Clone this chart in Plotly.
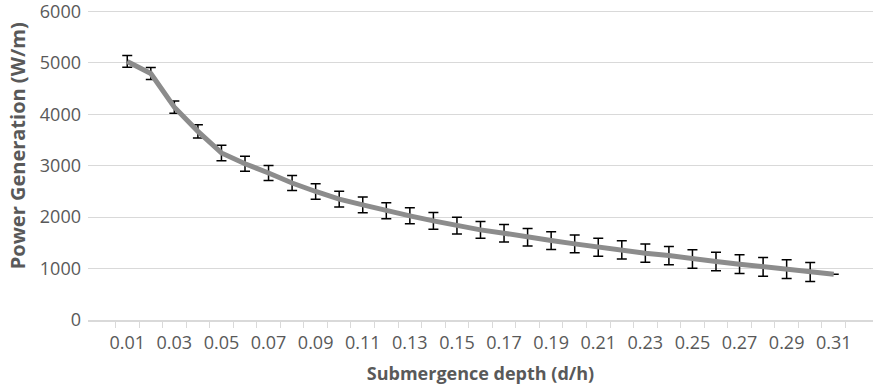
import plotly.graph_objects as go

# Submergence depth categories (d/h)
depths = [f"{v / 100:.2f}" for v in range(1, 32)]

# Mean power generation per unit width (W/m)
power = [5030, 4795, 4140, 3670, 3250, 3040, 2860, 2665, 2500, 2350,
         2240, 2125, 2026, 1929, 1837, 1753, 1689, 1611, 1545, 1481,
         1416, 1364, 1299, 1253, 1188, 1136, 1085, 1032, 988, 935, 890]

# Error bar half-widths (W/m); the last depth has none
error = [115, 117, 120, 130, 150, 146, 146, 148, 150, 152,
         154, 156, 156, 162, 163, 165, 170, 170, 172, 174,
         175, 176, 178, 178, 180, 180, 182, 182, 183, 185, None]

# Every other category gets a visible label
tick_text = [d if i % 2 == 0 else "" for i, d in enumerate(depths)]

y_ticks = [0, 1000, 2000, 3000, 4000, 5000, 6000]

TEXT = "#595959"
GRID = "#d9d9d9"
FONT = "Open Sans, Lato, sans-serif"

fig = go.Figure(
    go.Scatter(
        x=depths,
        y=power,
        mode="lines",
        line=dict(color="#8c8c8c", width=5),
        error_y=dict(type="data",
                     array=[e if e is not None else float("nan") for e in error],
                     visible=True, color="black", thickness=1.5, width=5),
        hoverinfo="x+y",
    )
)

fig.update_layout(
    width=883,
    height=390,
    margin=dict(l=88, r=10, t=10, b=70),
    paper_bgcolor="white",
    plot_bgcolor="white",
    showlegend=False,
    font=dict(family=FONT, color=TEXT),
)

fig.update_xaxes(
    type="category",
    categoryorder="array",
    categoryarray=depths,
    tickmode="array",
    tickvals=depths,
    ticktext=tick_text,
    tickangle=0,
    tickson="boundaries",
    ticks="outside",
    ticklen=6,
    tickcolor=GRID,
    tickwidth=1,
    showgrid=False,
    showline=True,
    linecolor=GRID,
    linewidth=1.5,
    tickfont=dict(size=18, color=TEXT),
    ticklabelstandoff=6,
    title=dict(text="<b>Submergence depth (d/h)</b>",
               font=dict(size=18, color=TEXT), standoff=14),
)

fig.update_yaxes(
    range=[0, 6030],
    tickmode="array",
    tickvals=y_ticks,
    showgrid=True,
    gridcolor=GRID,
    gridwidth=1,
    zeroline=False,
    showline=False,
    ticks="",
    tickfont=dict(size=18, color=TEXT),
    ticklabelstandoff=6,
    ticklabeloverflow="allow",
    automargin=False,
)

# Vertical axis title, placed beside the tick labels
fig.add_annotation(
    text="<b>Power Generation (W/m)</b>",
    textangle=-90,
    xref="paper", yref="paper",
    x=(17 - 88) / 785, y=(319.5 - 146) / 309.5,
    xanchor="center", yanchor="middle",
    showarrow=False,
    font=dict(size=20, color=TEXT, family=FONT),
)

fig.write_html("out.html")
